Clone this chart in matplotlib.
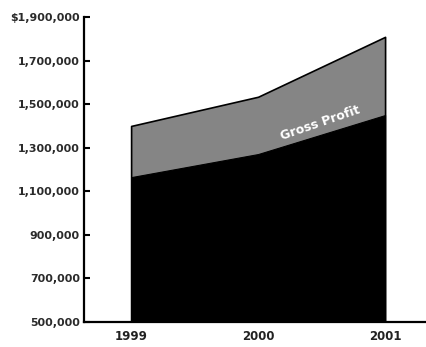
import matplotlib

matplotlib.use("Agg")

import matplotlib.pyplot as plt

# Sales split into cost of sales and gross profit, 1999-2001
years = [1999, 2000, 2001]
cost_of_sales = [1165000, 1271000, 1450000]
net_sales = [1400000, 1534000, 1809000]

y_ticks = [500000, 700000, 900000, 1100000, 1300000, 1500000, 1700000, 1900000]
y_tick_labels = ["500,000", "700,000", "900,000", "1,100,000", "1,300,000",
                 "1,500,000", "1,700,000", "$1,900,000"]


def main():
    fig = plt.figure(figsize=(4.27, 3.47), dpi=100)
    ax = fig.add_axes([0.197, 0.072, 0.803, 0.879])

    base = y_ticks[0]
    ax.fill_between(years, base, net_sales, facecolor="#858585",
                    edgecolor="black", lw=1.2, zorder=2)
    ax.fill_between(years, base, cost_of_sales, facecolor="black",
                    edgecolor="black", lw=0.8, zorder=3)

    ax.text(2000.49, 1412000, "Gross Profit", color="white", fontsize=9,
            fontweight="bold", rotation=19, ha="center", va="center", zorder=4)

    ax.set_xlim(1998.63, 2001.33)
    ax.set_ylim(base, y_ticks[-1])
    ax.set_xticks(years)
    ax.set_xticklabels([str(y) for y in years], fontsize=8.5,
                       fontweight="bold", color="#222222")
    ax.set_yticks(y_ticks)
    ax.set_yticklabels(y_tick_labels, fontsize=7.9, fontweight="bold",
                       color="#2a2a2a")

    ax.tick_params(axis="x", length=0, pad=6)
    ax.tick_params(axis="y", direction="in", length=4.5, width=1.5, pad=3)

    for side in ("top", "right"):
        ax.spines[side].set_visible(False)
    for side in ("left", "bottom"):
        ax.spines[side].set_linewidth(1.6)

    fig.savefig("out.png", dpi=100)


if __name__ == "__main__":
    main()
